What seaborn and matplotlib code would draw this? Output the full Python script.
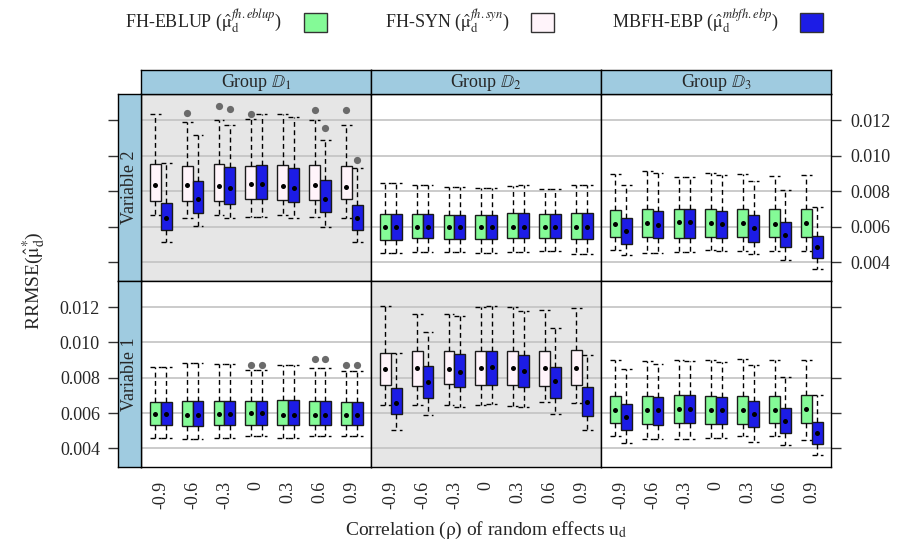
import matplotlib
matplotlib.use("Agg")
import matplotlib.pyplot as plt
from matplotlib.patches import Patch
import pandas as pd
import seaborn as sns

# Correlation of the random effects (x categories)
RHO = ["-0.9", "-0.6", "-0.3", "0", "0.3", "0.6", "0.9"]

# Box summaries per correlation: (lower whisker, Q1, median, Q3, upper whisker)
# ---- Variable 2 ----
V2_D1_SYN = [
    (0.00664, 0.00748, 0.00837, 0.00952, 0.01238),
    (0.00649, 0.00748, 0.00837, 0.00942, 0.01189),
    (0.00667, 0.00748, 0.00831, 0.00955, 0.01202),
    (0.00656, 0.00754, 0.00839, 0.00944, 0.01208),
    (0.00665, 0.00752, 0.00831, 0.00950, 0.01238),
    (0.00658, 0.00752, 0.00835, 0.00950, 0.01202),
    (0.00652, 0.00754, 0.00825, 0.00942, 0.01176),
]
V2_D1_EBP = [
    (0.00513, 0.00583, 0.00648, 0.00733, 0.00961),
    (0.00603, 0.00677, 0.00758, 0.00859, 0.01119),
    (0.00652, 0.00729, 0.00816, 0.00935, 0.01176),
    (0.00658, 0.00758, 0.00839, 0.00948, 0.01236),
    (0.00652, 0.00741, 0.00818, 0.00933, 0.01219),
    (0.00601, 0.00684, 0.00758, 0.00865, 0.01091),
    (0.00515, 0.00583, 0.00647, 0.00724, 0.00931),
]
V2_D1_SYN_OUT = [("-0.6", 0.01243), ("-0.3", 0.01283), ("0", 0.01236),
                 ("0.6", 0.01257), ("0.9", 0.01257)]
V2_D1_EBP_OUT = [("-0.3", 0.01262), ("0.6", 0.01157), ("0.9", 0.00976)]

V2_D2_EBLUP = [
    (0.00453, 0.00528, 0.00601, 0.00671, 0.00848),
    (0.00458, 0.00537, 0.00601, 0.00675, 0.00835),
    (0.00458, 0.00534, 0.00601, 0.00667, 0.00825),
    (0.00454, 0.00534, 0.00601, 0.00667, 0.00820),
    (0.00458, 0.00537, 0.00601, 0.00677, 0.00831),
    (0.00464, 0.00537, 0.00601, 0.00675, 0.00814),
    (0.00447, 0.00530, 0.00601, 0.00679, 0.00835),
]
V2_D2_EBP = [
    (0.00453, 0.00526, 0.00601, 0.00671, 0.00848),
    (0.00458, 0.00535, 0.00601, 0.00675, 0.00835),
    (0.00456, 0.00534, 0.00601, 0.00669, 0.00827),
    (0.00454, 0.00534, 0.00601, 0.00667, 0.00820),
    (0.00458, 0.00537, 0.00601, 0.00677, 0.00833),
    (0.00462, 0.00537, 0.00601, 0.00673, 0.00814),
    (0.00447, 0.00530, 0.00601, 0.00679, 0.00835),
]

V2_D3_EBLUP = [
    (0.00470, 0.00545, 0.00616, 0.00697, 0.00895),
    (0.00455, 0.00545, 0.00622, 0.00701, 0.00914),
    (0.00460, 0.00539, 0.00626, 0.00701, 0.00882),
    (0.00468, 0.00541, 0.00622, 0.00699, 0.00904),
    (0.00464, 0.00541, 0.00622, 0.00701, 0.00899),
    (0.00462, 0.00541, 0.00616, 0.00699, 0.00884),
    (0.00464, 0.00541, 0.00622, 0.00701, 0.00891),
]
V2_D3_EBP = [
    (0.00443, 0.00504, 0.00575, 0.00650, 0.00835),
    (0.00451, 0.00539, 0.00613, 0.00690, 0.00904),
    (0.00460, 0.00539, 0.00628, 0.00701, 0.00880),
    (0.00466, 0.00536, 0.00616, 0.00688, 0.00891),
    (0.00445, 0.00517, 0.00596, 0.00669, 0.00857),
    (0.00411, 0.00487, 0.00554, 0.00628, 0.00808),
    (0.00360, 0.00424, 0.00488, 0.00549, 0.00711),
]

# ---- Variable 1 ----
V1_D1_EBLUP = [
    (0.00462, 0.00530, 0.00596, 0.00664, 0.00859),
    (0.00455, 0.00526, 0.00592, 0.00669, 0.00884),
    (0.00462, 0.00530, 0.00594, 0.00671, 0.00878),
    (0.00470, 0.00534, 0.00600, 0.00667, 0.00842),
    (0.00460, 0.00532, 0.00588, 0.00673, 0.00874),
    (0.00468, 0.00532, 0.00590, 0.00667, 0.00854),
    (0.00470, 0.00530, 0.00590, 0.00662, 0.00840),
]
V1_D1_EBP = [
    (0.00462, 0.00530, 0.00597, 0.00664, 0.00859),
    (0.00455, 0.00526, 0.00592, 0.00669, 0.00884),
    (0.00462, 0.00530, 0.00594, 0.00671, 0.00878),
    (0.00470, 0.00534, 0.00601, 0.00667, 0.00842),
    (0.00460, 0.00532, 0.00589, 0.00673, 0.00874),
    (0.00468, 0.00532, 0.00590, 0.00667, 0.00854),
    (0.00470, 0.00530, 0.00590, 0.00662, 0.00840),
]
V1_D1_EBLUP_OUT = [("0", 0.00871), ("0.6", 0.00906), ("0.9", 0.00874)]
V1_D1_EBP_OUT = [("0", 0.00871), ("0.6", 0.00906), ("0.9", 0.00874)]

V1_D2_SYN = [
    (0.00648, 0.00761, 0.00852, 0.00942, 0.01209),
    (0.00647, 0.00756, 0.00857, 0.00952, 0.01159),
    (0.00645, 0.00765, 0.00848, 0.00952, 0.01164),
    (0.00647, 0.00758, 0.00854, 0.00952, 0.01202),
    (0.00639, 0.00758, 0.00857, 0.00953, 0.01198),
    (0.00665, 0.00752, 0.00856, 0.00953, 0.01181),
    (0.00658, 0.00760, 0.00857, 0.00955, 0.01196),
]
V1_D2_EBP = [
    (0.00502, 0.00594, 0.00656, 0.00741, 0.00942),
    (0.00592, 0.00688, 0.00775, 0.00865, 0.01057),
    (0.00633, 0.00748, 0.00831, 0.00935, 0.01149),
    (0.00650, 0.00760, 0.00859, 0.00953, 0.01204),
    (0.00632, 0.00746, 0.00840, 0.00927, 0.01176),
    (0.00596, 0.00684, 0.00780, 0.00861, 0.01080),
    (0.00507, 0.00586, 0.00664, 0.00750, 0.00929),
]

V1_D3_EBLUP = [
    (0.00470, 0.00545, 0.00620, 0.00697, 0.00903),
    (0.00455, 0.00537, 0.00620, 0.00699, 0.00895),
    (0.00455, 0.00543, 0.00624, 0.00701, 0.00899),
    (0.00462, 0.00541, 0.00620, 0.00697, 0.00899),
    (0.00468, 0.00541, 0.00620, 0.00697, 0.00908),
    (0.00470, 0.00543, 0.00620, 0.00699, 0.00899),
    (0.00447, 0.00543, 0.00624, 0.00701, 0.00899),
]
V1_D3_EBP = [
    (0.00432, 0.00505, 0.00577, 0.00650, 0.00848),
    (0.00451, 0.00534, 0.00615, 0.00692, 0.00878),
    (0.00455, 0.00543, 0.00626, 0.00705, 0.00895),
    (0.00458, 0.00537, 0.00616, 0.00692, 0.00891),
    (0.00438, 0.00519, 0.00596, 0.00667, 0.00871),
    (0.00421, 0.00487, 0.00554, 0.00630, 0.00805),
    (0.00362, 0.00426, 0.00488, 0.00552, 0.00701),
]

Y_TICKS = [0.004, 0.006, 0.008, 0.010, 0.012]
Y_TICK_LABELS = ["0.004", "0.006", "0.008", "0.010", "0.012"]
ROW_LABELS = ["Variable 2", "Variable 1"]
COL_LABELS = [r"Group $\mathbb{D}_1$", r"Group $\mathbb{D}_2$", r"Group $\mathbb{D}_3$"]

METHOD_LABELS = {
    "EBLUP": r"FH-EBLUP ($\hat{\mathrm{\mu}}_{\mathrm{d}}^{fh.eblup}$)",
    "SYN": r"FH-SYN ($\hat{\mathrm{\mu}}_{\mathrm{d}}^{fh.syn}$)",
    "EBP": r"MBFH-EBP ($\hat{\mathrm{\mu}}_{\mathrm{d}}^{mbfh.ebp}$)",
}
COLORS = {"EBLUP": "#84fa97", "SYN": "#fff4fa", "EBP": "#1c1ce6"}

# (row, col, shaded, left estimator, left boxes, EBP boxes, left outliers, EBP outliers)
PANELS = [
    (0, 0, True, "SYN", V2_D1_SYN, V2_D1_EBP, V2_D1_SYN_OUT, V2_D1_EBP_OUT),
    (0, 1, False, "EBLUP", V2_D2_EBLUP, V2_D2_EBP, [], []),
    (0, 2, False, "EBLUP", V2_D3_EBLUP, V2_D3_EBP, [], []),
    (1, 0, False, "EBLUP", V1_D1_EBLUP, V1_D1_EBP, V1_D1_EBLUP_OUT, V1_D1_EBP_OUT),
    (1, 1, True, "SYN", V1_D2_SYN, V1_D2_EBP, [], []),
    (1, 2, False, "EBLUP", V1_D3_EBLUP, V1_D3_EBP, [], []),
]

sns.set_theme(style="white")
plt.rcParams["font.family"] = ["Liberation Serif", "DejaVu Serif"]
plt.rcParams["mathtext.fontset"] = "stix"
plt.rcParams["axes.linewidth"] = 1.0
plt.rcParams["axes.edgecolor"] = "black"

W, H = 897, 546
fig = plt.figure(figsize=(W / 100, H / 100), dpi=100)
fig.patch.set_facecolor("white")


def px_axes(x0, y0, x1, y1):
    return fig.add_axes([x0 / W, 1 - y1 / H, (x1 - x0) / W, (y1 - y0) / H])


COL_X = [141, 371, 601, 831]
ROW_Y = [94, 281, 467]
STRIP_TOP = 70
STRIP_LEFT = 118
YLIM = (0.00295, 0.01348)
XLIM = (-0.62, 6.6)
STRIP_COLOR = "#9fcbe0"
FS = 13
BOX_W = 0.34
DASH = (0, (3.5, 2.5))


def long_frame(parts):
    recs = []
    for method, stats in parts:
        for rho, five in zip(RHO, stats):
            for v in five:
                recs.append({"rho": rho, "method": method, "value": v})
    return pd.DataFrame(recs)


def median_frame(parts):
    recs = []
    for method, stats in parts:
        for rho, five in zip(RHO, stats):
            recs.append({"rho": rho, "method": method, "value": five[2]})
    return pd.DataFrame(recs)


def outlier_frame(parts):
    recs = []
    for method, pts in parts:
        for rho, v in pts:
            recs.append({"rho": rho, "method": method, "value": v})
    return pd.DataFrame(recs, columns=["rho", "method", "value"])


for row, col, shaded, left, left_stats, ebp_stats, left_out, ebp_out in PANELS:
    ax = px_axes(COL_X[col], ROW_Y[row], COL_X[col + 1], ROW_Y[row + 1])
    ax.set_facecolor("#e6e6e6" if shaded else "white")
    hue_order = [left, "EBP"]
    pal = {m: COLORS[m] for m in hue_order}
    parts = [(left, left_stats), ("EBP", ebp_stats)]

    sns.boxplot(
        data=long_frame(parts), x="rho", y="value", hue="method",
        order=RHO, hue_order=hue_order, palette=pal, saturation=1,
        width=2 * BOX_W, gap=0, dodge=True, whis=(0, 100), showfliers=False,
        linecolor="#1a1a1a", linewidth=1.0,
        medianprops={"visible": False},
        whiskerprops={"linestyle": DASH, "color": "black"},
        capprops={"linestyle": DASH, "color": "black"},
        capwidths=BOX_W, legend=False, ax=ax, zorder=2,
    )
    sns.pointplot(
        data=median_frame(parts), x="rho", y="value", hue="method",
        order=RHO, hue_order=hue_order, palette={m: "black" for m in hue_order},
        dodge=BOX_W, linestyle="none", marker="o", markersize=3.6,
        markeredgewidth=0, errorbar=None, legend=False, ax=ax, zorder=4,
    )
    out = outlier_frame([(left, left_out), ("EBP", ebp_out)])
    if len(out):
        sns.pointplot(
            data=out, x="rho", y="value", hue="method",
            order=RHO, hue_order=hue_order, palette={m: "#6b6b6b" for m in hue_order},
            dodge=BOX_W, linestyle="none", marker="o", markersize=5.2,
            markeredgewidth=0, errorbar=None, legend=False, ax=ax, zorder=4,
        )

    ax.set_xlim(*XLIM)
    ax.set_ylim(*YLIM)
    ax.set_yticks(Y_TICKS)
    ax.yaxis.grid(True, color="#c2c2c2", linewidth=1.2)
    ax.xaxis.grid(False)
    ax.set_axisbelow(True)
    ax.set_xlabel("")
    ax.set_ylabel("")
    for s in ax.spines.values():
        s.set_visible(True)
        s.set_color("black")
        s.set_linewidth(1.0)
    ax.tick_params(axis="y", left=False, labelleft=False)
    if col == 2:
        ax.yaxis.tick_right()
        ax.tick_params(axis="y", right=True, length=7, width=1, color="#333333",
                       labelright=(row == 0), labelsize=FS, pad=7)
        ax.set_yticklabels(Y_TICK_LABELS)
    else:
        ax.tick_params(axis="y", right=False, labelright=False)
    if row == 1:
        ax.set_xticks(range(len(RHO)))
        ax.set_xticklabels(RHO, rotation=90, fontsize=FS)
        ax.tick_params(axis="x", bottom=False, length=0, pad=10)
    else:
        ax.tick_params(axis="x", bottom=False, labelbottom=False)
    if ax.get_legend() is not None:
        ax.get_legend().remove()

# Column strips
for col in range(3):
    sax = px_axes(COL_X[col], STRIP_TOP, COL_X[col + 1], ROW_Y[0])
    sax.set_facecolor(STRIP_COLOR)
    sax.set_xticks([])
    sax.set_yticks([])
    for s in sax.spines.values():
        s.set_color("black")
    sax.text(0.5, 0.47, COL_LABELS[col], ha="center", va="center", fontsize=FS,
             transform=sax.transAxes)

# Row strips, carrying the left-hand y axis
for row in range(2):
    sax = px_axes(STRIP_LEFT, ROW_Y[row], COL_X[0], ROW_Y[row + 1])
    sax.set_facecolor(STRIP_COLOR)
    sax.set_xticks([])
    sax.set_ylim(*YLIM)
    sax.set_yticks(Y_TICKS)
    sax.set_yticklabels(Y_TICK_LABELS)
    sax.tick_params(axis="y", left=True, length=7, width=1, color="#333333",
                    labelleft=(row == 1), labelsize=FS, pad=6)
    for s in sax.spines.values():
        s.set_color("black")
    sax.text(0.5, 0.5, ROW_LABELS[row], ha="center", va="center", fontsize=FS,
             rotation=90, transform=sax.transAxes)

fig.text(34 / W, 1 - 281 / H, r"RRMSE($\hat{\mathrm{\mu}}_{\mathrm{d}}^{*}$)", rotation=90,
         ha="center", va="center", fontsize=FS + 1)
fig.text(486 / W, 1 - 530 / H,
         r"Correlation ($\mathrm{\rho}$) of random effects u$_{\mathrm{d}}$",
         ha="center", va="center", fontsize=FS + 1)

handles = [Patch(facecolor=COLORS[m], edgecolor="#333333", linewidth=1.0)
           for m in ["EBLUP", "SYN", "EBP"]]
fig.legend(handles, [METHOD_LABELS[m] for m in ["EBLUP", "SYN", "EBP"]],
           loc="center", bbox_to_anchor=(474 / W, 1 - 22 / H), ncol=3,
           frameon=False, markerfirst=False, handlelength=1.25, handleheight=1.25,
           handletextpad=1.2, columnspacing=3.2, fontsize=FS)

fig.savefig("out.png", dpi=100, facecolor="white")
